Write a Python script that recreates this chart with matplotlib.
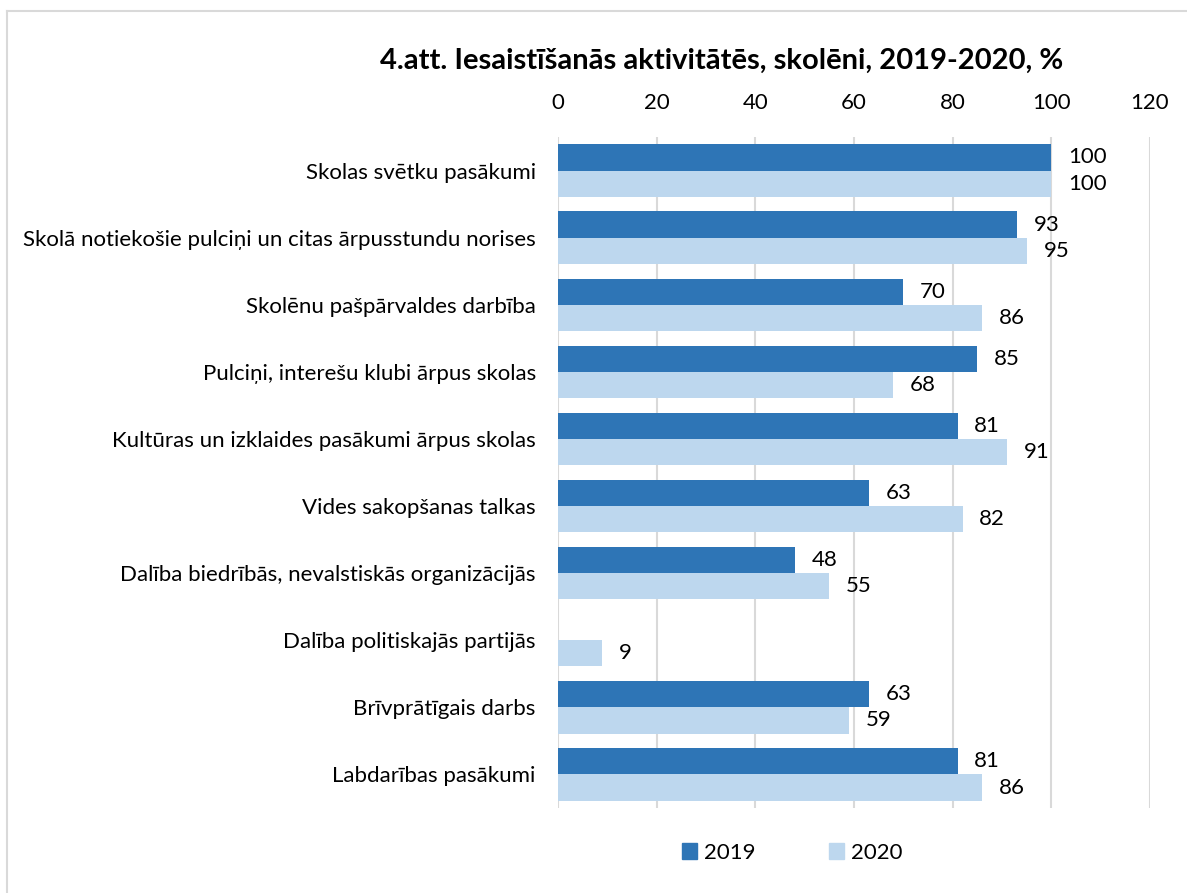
import matplotlib.pyplot as plt
import numpy as np
from matplotlib.patches import Rectangle
from matplotlib.lines import Line2D

plt.rcParams['font.family'] = ['Lato', 'DejaVu Sans']

categories = [
    "Skolas svētku pasākumi",
    "Skolā notiekošie pulciņi un citas ārpusstundu norises",
    "Skolēnu pašpārvaldes darbība",
    "Pulciņi, interešu klubi ārpus skolas",
    "Kultūras un izklaides pasākumi ārpus skolas",
    "Vides sakopšanas talkas",
    "Dalība biedrībās, nevalstiskās organizācijās",
    "Dalība politiskajās partijās",
    "Brīvprātīgais darbs",
    "Labdarības pasākumi",
]
values_2019 = [100, 93, 70, 85, 81, 63, 48, None, 63, 81]
values_2020 = [100, 95, 86, 68, 91, 82, 55, 9, 59, 86]
series_names = ["2019", "2020"]
title = "4.att. Iesaistīšanās aktivitātēs, skolēni, 2019-2020, %"
xticks = [0, 20, 40, 60, 80, 100, 120]

c19 = "#2E75B6"
c20 = "#BDD7EE"
fs = 16

fig = plt.figure(figsize=(11.87, 8.93), dpi=100)
ax = fig.add_axes([558/1187, 1-808/893, (1150-558)/1187, (808-137)/893])

n = len(categories)
y = np.arange(n)
h = 0.39
v19 = [np.nan if v is None else v for v in values_2019]
ax.barh(y - h/2, v19, height=h, color=c19, zorder=3)
ax.barh(y + h/2, values_2020, height=h, color=c20, zorder=3)

for i in range(n):
    if values_2019[i] is not None:
        ax.text(values_2019[i] + 3.4, y[i] - h/2, str(values_2019[i]), va='center', ha='left', fontsize=fs)
    ax.text(values_2020[i] + 3.4, y[i] + h/2, str(values_2020[i]), va='center', ha='left', fontsize=fs)

ax.set_xlim(0, 120)
ax.set_ylim(n - 0.5, -0.5)
ax.set_yticks(y)
ax.set_yticklabels(categories, fontsize=fs)
ax.set_xticks(xticks)
ax.set_xticklabels([str(t) for t in xticks], fontsize=fs)
ax.xaxis.tick_top()
ax.tick_params(axis='x', length=0, pad=17)
ax.tick_params(axis='y', length=0, pad=16)
ax.grid(axis='x', color='#D9D9D9', linewidth=1.5, zorder=0)
for s in ax.spines.values():
    s.set_visible(False)

fig.text(722/1187, 1 - 61/893, title, ha='center', va='center', fontsize=21, fontweight='bold')

handles = [Rectangle((0, 0), 1, 1, color=c19), Rectangle((0, 0), 1, 1, color=c20)]
fig.legend(handles, series_names, loc='center', bbox_to_anchor=(792/1187, 1-853/893), ncol=2,
           frameon=False, fontsize=fs, handlelength=0.7, handleheight=0.7, columnspacing=3.3, handletextpad=0.3)

fig.add_artist(Line2D([7/1187, 7/1187], [0, 1-11/893], color='#D9D9D9', lw=1.5, transform=fig.transFigure))
fig.add_artist(Line2D([7/1187, 1], [1-11/893, 1-11/893], color='#D9D9D9', lw=1.5, transform=fig.transFigure))

fig.savefig("out.png", dpi=100)
